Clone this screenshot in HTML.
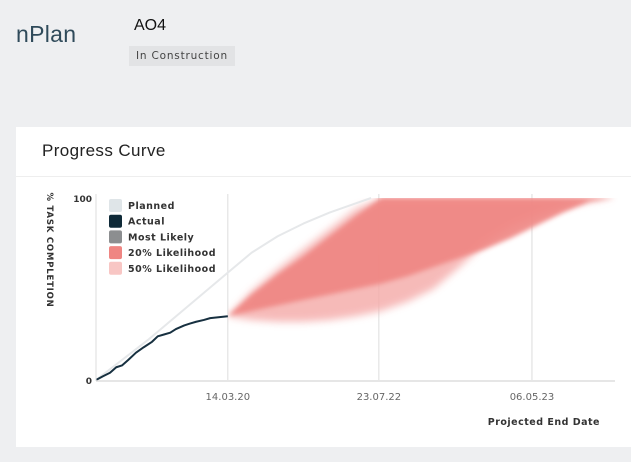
<!DOCTYPE html>
<html><head><meta charset="utf-8"><style>
body{margin:0;width:631px;height:462px;background:#eeeff1;font-family:"Liberation Sans",sans-serif;position:relative;overflow:hidden}
.logo{position:absolute;left:16px;top:21px;font-size:23px;color:#2f4a5a;letter-spacing:0.3px}
.title{position:absolute;left:134px;top:17px;font-size:16px;color:#111}
.tag{position:absolute;left:129px;top:46px;background:#e2e3e5;color:#444;font-size:10.5px;padding:4px 7px;letter-spacing:0.8px;font-family:"DejaVu Sans",sans-serif}
.card{position:absolute;left:16px;top:127px;width:615px;height:320px;background:#fff}
.hdr{position:absolute;left:26px;top:14px;font-size:17px;color:#222;letter-spacing:0.4px}
.sep{position:absolute;left:0;top:49px;width:615px;height:1px;background:#eee}
svg{position:absolute;left:0;top:0}
</style></head><body>
<div class="logo">nPlan</div>
<div class="title">AO4</div>
<div class="tag">In Construction</div>
<div class="card">
<div class="hdr">Progress Curve</div>
<div class="sep"></div>
</div>
<svg id="chart" width="631" height="462"></svg>
<script>
const plannedT=[0,5,10,15,20,25.4,30,35,40,45,50,53];
const plannedV=[0,11,22,34,46,59,70,79,86,92,97,100];
const actualT=[0,1.3,2.7,3.9,5,6.2,7.7,9.2,10.8,11.9,13.1,14.3,15.4,17,18.1,19.3,20.8,22,25.4];
const actualV=[0,2,4,7,8,11,15,18,21,24,25,26,28,30,31,32,33,34,35];
const likelyT=[25.4,30,35,40,45,50,55,60,65,70,75,80,85,90,95,100];
const band20Upper=[35,47,58,68,79,90,100,100,100,100,100,100,100,100,100,100];
const band20Lower=[35,38,41,44,47,50,53,57,62,67,72,78,85,92,98,100];
const band50Upper=[35,49,61,72,83,94,100,100,100,100,100,100,100,100,100,100];
const band50Lower=[35,33,32,32,33,35,38,43,50,62,75,84,90,95,98,100];
const tickT=[25.4,54.5,84];
const tickLabels=["14.03.20","23.07.22","06.05.23"];
const X=t=>96+t*(615-96)/100, Y=v=>380-v*1.82;
const svg=document.getElementById('chart'),NS="http://www.w3.org/2000/svg";
function el(tag,attrs,parent){const e=document.createElementNS(NS,tag);for(const k in attrs)e.setAttribute(k,attrs[k]);(parent||svg).appendChild(e);return e;}
const defs=el('defs',{});
const f=el('filter',{id:'blur',x:'-20%',y:'-20%',width:'140%',height:'140%'},defs);el('feGaussianBlur',{stdDeviation:'4'},f);
const f2=el('filter',{id:'blur2',x:'-20%',y:'-20%',width:'140%',height:'140%'},defs);el('feGaussianBlur',{stdDeviation:'2.5'},f2);
const cp=el('clipPath',{id:'clip'},defs);el('rect',{x:X(tickT[0]),y:Y(100),width:400,height:200},cp);
tickT.forEach((t,i)=>{
 const g=el('line',{x1:X(t),x2:X(t),y1:Y(100)-4,y2:Y(0),stroke:'#ddd','stroke-width':1});
 
 const tx=el('text',{x:X(t),y:400,'text-anchor':'middle','font-size':10,fill:'#666','font-family':'DejaVu Sans, sans-serif'});tx.textContent=tickLabels[i];
 
});
function area(T,up,lo,fill,op,filt,name){
 let d='M'+T.map((t,i)=>X(t)+','+Y(up[i])).join('L');
 for(let i=T.length-1;i>=0;i--)d+='L'+X(T[i])+','+Y(lo[i]);
 const g=el('g',{'clip-path':'url(#clip)'});
 const p=el('path',{d:d+'Z',fill:fill,opacity:op,filter:filt},g);
 
}
area(likelyT,band50Upper,band50Lower,'#f4a9a7',0.8,'url(#blur)','band-50-likelihood');
area(likelyT,band20Upper,band20Lower,'#ef8582',0.9,'url(#blur2)','band-20-likelihood');
function line(T,V,stroke,w,name){const p=el('path',{d:'M'+T.map((t,i)=>X(t)+','+Y(V[i])).join('L'),fill:'none',stroke:stroke,'stroke-width':w,'stroke-linejoin':'round'});
 }
line(plannedT,plannedV,'#e6e8ea',2,'planned-line');
line(actualT,actualV,'#173040',2,'actual-line');
const ax=el('line',{x1:96,x2:615,y1:381,y2:381,stroke:'#ddd','stroke-width':1.5});
const ay=el('line',{x1:96,x2:96,y1:Y(100)-4,y2:381,stroke:'#ddd','stroke-width':1});
[[0,'0'],[100,'100']].forEach(([v,s])=>{const t=el('text',{x:92,y:Y(v)+4,'text-anchor':'end','font-size':9,'font-weight':'bold',fill:'#333','font-family':'DejaVu Sans, sans-serif'});t.textContent=s;
 });
const yt=el('text',{transform:'translate(47,250) rotate(90)','text-anchor':'middle','font-size':8.5,'font-weight':'bold',fill:'#333','font-family':'DejaVu Sans, sans-serif','letter-spacing':'0.8'});yt.textContent='% TASK COMPLETION';

const xt=el('text',{x:600,y:425,'text-anchor':'end','font-size':9.5,'font-weight':'bold',fill:'#333','font-family':'DejaVu Sans, sans-serif','letter-spacing':'0.5'});xt.textContent='Projected End Date';

const leg=[['#dfe5e8','Planned'],['#0f2a38','Actual'],['#8c8e90','Most Likely'],['#ef8582','20% Likelihood'],['#f8c6c4','50% Likelihood']];
leg.forEach(([c,s],i)=>{const g=el('g',{});
 el('rect',{x:109,y:199+i*15.7,width:13,height:13,rx:2,fill:c},g);
 const t=el('text',{x:128,y:209+i*15.7,'font-size':9.5,'font-weight':'bold',fill:'#333','font-family':'DejaVu Sans, sans-serif','letter-spacing':'0.5'},g);t.textContent=s;});
</script>
</body></html>
